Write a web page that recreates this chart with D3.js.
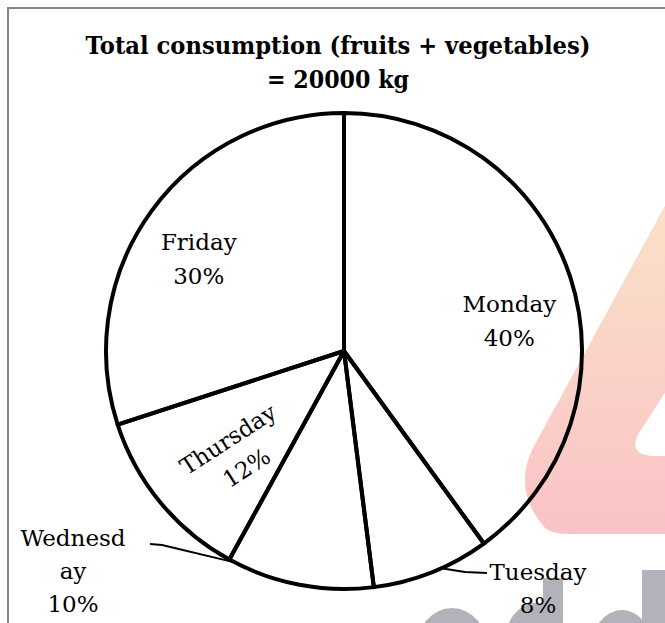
<!DOCTYPE html>
<html>
<head>
<meta charset="utf-8">
<script src="https://cdn.jsdelivr.net/npm/d3@7"></script>
<style>
  body { margin: 0; background: #fff; }
  svg { display: block; }
  .lbl { font-family: "DejaVu Serif", "Liberation Serif", serif; font-size: 23px; fill: #000; }
  .ttl { font-family: "DejaVu Serif", "Liberation Serif", serif; font-size: 25px; font-weight: bold; fill: #000; }
</style>
</head>
<body>
<script>
// chart data
const days = ['Monday', 'Tuesday', 'Wednesday', 'Thursday', 'Friday'];
const shares = [40, 8, 10, 12, 30];
const titleLines = ['Total consumption (fruits + vegetables)', '= 20000 kg'];

const width = 665;
const height = 623;
const cx = 344;
const cy = 351;
const radius = 238;

const svg = d3.select('body').append('svg')
  .attr('width', width)
  .attr('height', height);

// watermark (drawn behind)
const defs = svg.append('defs');
const grad = defs.append('linearGradient')
  .attr('id', 'wm')
  .attr('x1', 0).attr('y1', 0).attr('x2', 0).attr('y2', 1);
grad.append('stop').attr('offset', '0%').attr('stop-color', '#fae1c8');
grad.append('stop').attr('offset', '100%').attr('stop-color', '#fac3c6');

const wm = svg.append('g').attr('class', 'watermark');
wm.append('path')
  .attr('fill', 'url(#wm)')
  .attr('d', 'M668,200 L533,448 Q512,490 545,528 Q552,534 570,534 L668,534 Z'
    + ' M668,388 L637,436 Q630,455 652,456 L668,456 Z')
  .attr('fill-rule', 'evenodd');
const grey = '#b2b2ba';
wm.append('rect').attr('x', 543).attr('y', 578).attr('width', 20).attr('height', 60).attr('fill', grey);
wm.append('rect').attr('x', 642).attr('y', 570).attr('width', 30).attr('height', 60).attr('fill', grey);
wm.append('ellipse').attr('cx', 452).attr('cy', 650).attr('rx', 36).attr('ry', 42).attr('fill', grey);
wm.append('ellipse').attr('cx', 536).attr('cy', 645).attr('rx', 32).attr('ry', 42).attr('fill', grey);
wm.append('ellipse').attr('cx', 622).attr('cy', 652).attr('rx', 32).attr('ry', 42).attr('fill', grey);

// frame
svg.append('path')
  .attr('d', `M8,${height} L8,8 L${width},8`)
  .attr('fill', 'none')
  .attr('stroke', '#858585')
  .attr('stroke-width', 2);

// title
const titleWidths = [505, 142];
svg.append('g')
  .selectAll('text')
  .data(titleLines)
  .join('text')
  .attr('class', 'ttl')
  .attr('x', 338)
  .attr('y', (d, i) => 54 + i * 34)
  .attr('text-anchor', 'middle')
  .attr('textLength', (d, i) => titleWidths[i])
  .attr('lengthAdjust', 'spacingAndGlyphs')
  .text((d) => d);

// pie
const pie = d3.pie().sort(null).value((d) => d.value)
  .startAngle(0).endAngle(2 * Math.PI);
const arcs = pie(days.map((d, i) => ({ day: d, value: shares[i] })));
const arc = d3.arc().innerRadius(0).outerRadius(radius);

const g = svg.append('g').attr('transform', `translate(${cx},${cy})`);

g.selectAll('path.slice')
  .data(arcs)
  .join('path')
  .attr('class', 'slice')
  .attr('d', arc)
  .attr('fill', 'none')
  .attr('stroke', '#000')
  .attr('stroke-width', 4)
  .attr('stroke-linejoin', 'round');

// label placement: radius / angle shift (deg) inside, or fixed offset outside with a leader
const labelCfg = {
  Monday: { r: 168, da: 7.7, rot: 0, lines: ['Monday'] },
  Friday: { r: 172, da: -3.6, rot: 0, lines: ['Friday'] },
  Thursday: { r: 148, da: -4.3, rot: -33, lines: ['Thursday'] },
  Wednesday: {
    rot: 0, lines: ['Wednesd', 'ay'], outside: [-271, 220],
    start: [77, -27], knee: [12, 1], hit: -0.025,
  },
  Tuesday: {
    rot: 0, lines: ['Tuesday'], outside: [194, 237],
    start: [-51, -15], knee: [-22, -1], hit: 0.207,
  },
};

arcs.forEach((a) => {
  const cfg = labelCfg[a.data.day];
  let pos;
  if (cfg.outside) {
    pos = cfg.outside;
  } else {
    const mid = (a.startAngle + a.endAngle) / 2 + (cfg.da * Math.PI) / 180;
    pos = [Math.sin(mid) * cfg.r, -Math.cos(mid) * cfg.r];
  }
  const lines = cfg.lines.concat([`${a.data.value}%`]);
  const lh = cfg.outside ? 33 : 34;
  const y0 = -((lines.length - 1) * lh) / 2 + 8;
  const t = g.append('text')
    .attr('class', 'lbl')
    .attr('text-anchor', 'middle')
    .attr('transform', `translate(${pos[0]},${pos[1]}) rotate(${cfg.rot})`);
  lines.forEach((l, i) => {
    t.append('tspan')
      .attr('x', 0)
      .attr('y', y0 + i * lh)
      .text(l);
  });

  if (cfg.outside) {
    // leader from the label to the rim of its slice
    const ang = cfg.hit < 0 ? a.endAngle + cfg.hit : a.startAngle + cfg.hit;
    const rim = [Math.sin(ang) * radius, -Math.cos(ang) * radius];
    const start = [pos[0] + cfg.start[0], pos[1] + cfg.start[1]];
    const knee = [start[0] + cfg.knee[0], start[1] + cfg.knee[1]];
    g.append('path')
      .attr('d', d3.line()([start, knee, rim]))
      .attr('fill', 'none')
      .attr('stroke', '#000')
      .attr('stroke-width', 2)
      .attr('stroke-linejoin', 'round');
  }
});
</script>
</body>
</html>
